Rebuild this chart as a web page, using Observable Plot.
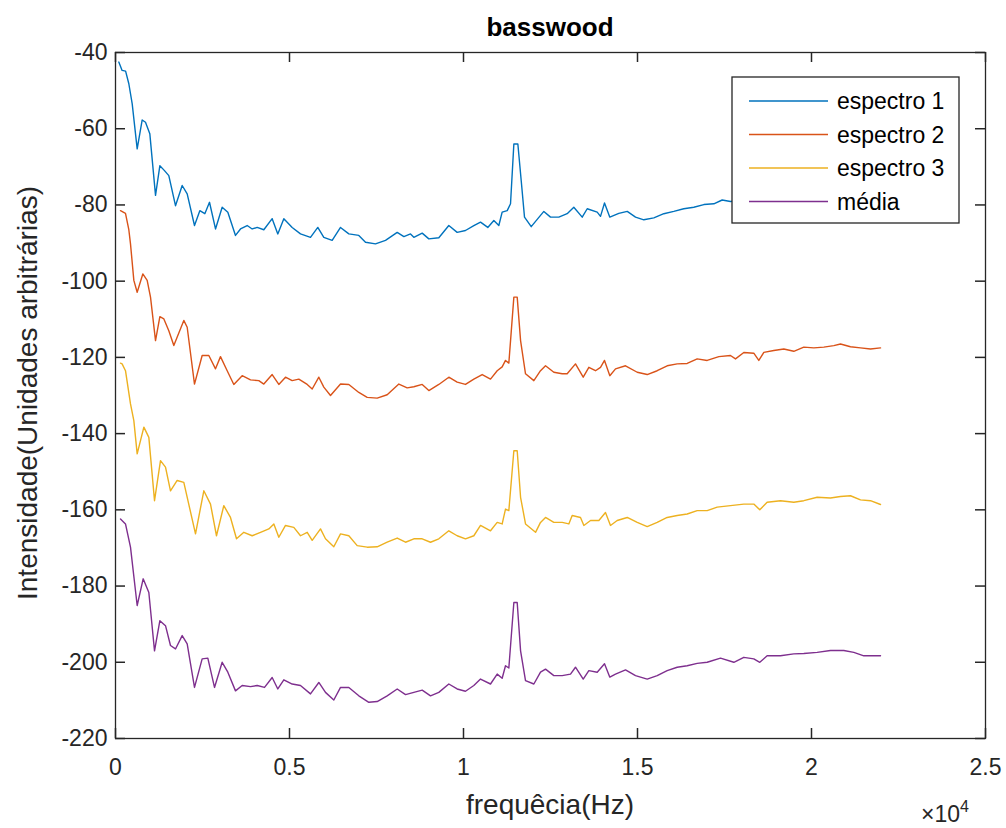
<!DOCTYPE html>
<html>
<head>
<meta charset="utf-8">
<script src="https://cdn.jsdelivr.net/npm/d3@7"></script>
<script src="https://cdn.jsdelivr.net/npm/@observablehq/plot@0.6"></script>
<style>
  body { margin: 0; background: #fff; }
  #chart { width: 1006px; height: 828px; }
</style>
</head>
<body>
<div id="chart"></div>
<script>
// ---------- data ----------
const titleText = "basswood";
const xLabel = "frequêcia(Hz)";
const yLabel = "Intensidade(Unidades arbitrárias)";
const seriesNames = ["espectro 1", "espectro 2", "espectro 3", "média"];
const seriesColors = ["#0072BD", "#D95319", "#EDB120", "#7E2F8E"];

const xTicks = [0, 5000, 10000, 15000, 20000, 25000];
const xTickLabels = ["0", "0.5", "1", "1.5", "2", "2.5"];
const yTicks = [-220, -200, -180, -160, -140, -120, -100, -80, -60, -40];

const freq1 = [95,190,290,383,480,623,767,862,986,1150,1275,1408,1532,1724,1916,2060,2270,2423,2567,2701,2874,3065,3228,3448,3592,3784,3927,4071,4262,4502,4664,4837,5077,5316,5603,5813,5986,6226,6466,6705,6992,7184,7471,7759,8095,8287,8477,8573,8813,9004,9291,9578,9818,10057,10297,10489,10698,10872,11015,11111,11256,11351,11447,11562,11658,11753,11946,12136,12309,12500,12739,12979,13170,13411,13555,13842,13937,14052,14205,14463,14705,14943,15182,15469,15756,16043,16330,16618,16906,17193,17433,17672,18055,18342,18486,18630,18917,19204,19491,19779,20066,20354,20641,20833,21120,21408,21695,21983];
const esp1 = [-42.5,-44.7,-44.9,-48.2,-53.5,-65.3,-57.7,-58.3,-61.3,-77.5,-69.7,-71,-72.3,-80.2,-74.9,-77.1,-85.4,-81.5,-82.3,-79.3,-86.3,-80.6,-81.9,-88,-86.3,-85.4,-86.3,-85.9,-86.5,-83.6,-87.6,-83.6,-85.9,-87.6,-88.5,-85.9,-88.5,-89.3,-85.9,-87.6,-88,-89.8,-90.2,-89.3,-87.2,-88.3,-87.6,-88.5,-87.4,-88.9,-88.6,-85.4,-87.2,-86.7,-85.4,-84.5,-85.9,-84.1,-85.4,-81.9,-81.5,-79.7,-64,-64,-73.6,-83.2,-85.7,-83.6,-81.7,-83.2,-83.2,-82.3,-80.6,-83.2,-81,-81.9,-83,-79.5,-83.2,-82.2,-81.7,-83.2,-83.9,-83.4,-82.3,-81.7,-81,-80.6,-79.9,-79.7,-78.7,-79.1,-78.7,-78.9,-80.8,-78.7,-78.2,-77.8,-78.4,-77.3,-77.5,-77.3,-76.9,-76.5,-77.2,-77.5,-77.8,-77.5];

const freq2 = [144,287,383,431,527,623,785,910,1006,1150,1275,1390,1532,1676,1963,2060,2270,2490,2682,2874,3017,3209,3400,3640,3880,4118,4262,4502,4693,4885,5077,5268,5509,5652,5843,5986,6178,6466,6705,6992,7232,7520,7807,8142,8382,8573,8813,9004,9291,9578,9818,10057,10297,10537,10776,10968,11111,11207,11303,11447,11543,11640,11782,12022,12213,12357,12596,12836,12979,13218,13440,13602,13793,13937,14052,14205,14368,14656,14992,15279,15566,15853,16140,16428,16715,17002,17338,17672,17816,18055,18342,18486,18630,18917,19204,19491,19779,20066,20354,20641,20833,21120,21408,21695,21983];
const esp2 = [-81.5,-82.2,-86.5,-90.2,-99.8,-102.9,-98.1,-99.8,-104.2,-115.6,-109.3,-109.9,-113,-116.9,-110.3,-112.1,-127,-119.5,-119.5,-123,-119.8,-123.5,-127.1,-124.8,-125.9,-126.1,-127,-124.5,-127.1,-125.2,-126.1,-125.7,-127.1,-128.3,-125.2,-127.8,-130,-127,-127.1,-129.2,-130.5,-130.7,-129.8,-127,-128,-127.7,-127.1,-128.7,-127.1,-125.2,-126.5,-127.1,-125.7,-124.5,-125.7,-123.5,-122.5,-120.8,-121.5,-104.2,-104.2,-115.6,-124.3,-126.1,-123.5,-122.2,-123.9,-124.3,-124.3,-121.7,-125.2,-122.6,-123.5,-122.6,-120.8,-124.8,-123,-122.2,-123.9,-124.5,-123.5,-122.2,-121.7,-121.6,-120.4,-120.8,-119.8,-119.5,-120.4,-118.7,-118.9,-120.8,-118.7,-118.2,-117.8,-118.4,-117.3,-117.5,-117.3,-116.9,-116.5,-117.2,-117.5,-117.8,-117.5];

const freq3 = [144,190,287,431,527,623,815,958,1121,1293,1437,1580,1772,1963,2299,2538,2730,2902,3112,3304,3477,3688,3927,4167,4406,4550,4693,4885,5124,5316,5509,5652,5891,6034,6273,6466,6705,6945,7232,7520,7807,8095,8334,8573,8813,9052,9291,9578,9818,10057,10297,10489,10776,10968,11111,11207,11303,11447,11543,11640,11782,12070,12213,12357,12596,12836,13027,13123,13362,13459,13650,13890,14080,14224,14416,14705,14992,15279,15566,15853,16140,16428,16715,17002,17290,17672,18055,18342,18514,18725,19108,19491,19779,20162,20545,20833,21120,21408,21695,21983];
const esp3 = [-121.5,-121.7,-123.5,-132.2,-136.6,-145.3,-138.3,-141,-157.6,-147.1,-148.8,-155,-152.3,-152.8,-166.3,-155,-158.5,-166.8,-158.9,-162,-167.6,-165.9,-166.8,-165.9,-165,-163.7,-167.2,-164.1,-164.6,-166.8,-165.9,-168,-165,-167.6,-169.7,-166.3,-166.8,-169.4,-169.8,-169.7,-168.5,-167.4,-168.5,-167.6,-167.6,-168.5,-167.6,-165.5,-166.8,-167.6,-166.8,-164.1,-165.5,-163.3,-163.7,-159.8,-160.2,-144.5,-144.5,-156.7,-163.7,-165.9,-163.3,-162,-163.3,-163.3,-163.7,-161.5,-162,-164.1,-162.8,-162.8,-160.7,-164.1,-162.8,-162,-163.3,-164.4,-163.3,-162,-161.5,-161.1,-160.2,-160.2,-159.3,-158.9,-158.5,-158.5,-160,-158,-157.6,-158,-157.6,-156.7,-156.9,-156.5,-156.3,-157.4,-157.6,-158.6];

const freq4 = [144,287,431,623,795,958,1121,1275,1437,1580,1724,1916,2060,2270,2490,2653,2845,3065,3228,3448,3640,3880,4071,4282,4502,4664,4837,5077,5316,5603,5843,6034,6273,6466,6705,6992,7280,7520,7807,8095,8334,8573,8813,9052,9291,9578,9818,10057,10297,10489,10776,10968,11111,11207,11303,11447,11543,11640,11782,12022,12213,12357,12596,12836,13075,13218,13440,13602,13842,14052,14205,14368,14656,14943,15279,15566,15853,16140,16428,16715,17002,17385,17768,18055,18342,18514,18725,19108,19491,19779,20162,20545,20928,21216,21503,21791,21983];
const media = [-162.4,-163.7,-169.8,-185.1,-178.1,-181.7,-197,-189.1,-190.4,-195.6,-196.5,-193,-195.2,-206.6,-199.1,-198.9,-206.6,-200,-202.6,-207.5,-206.1,-206.4,-206.1,-206.6,-204,-207,-204.6,-205.7,-206.1,-208.3,-205.3,-207.9,-209.9,-206.6,-206.6,-208.8,-210.5,-210.3,-208.8,-207,-208.5,-207.9,-207.3,-208.8,-207.9,-205.7,-207,-207.6,-206.1,-204.4,-205.7,-203.1,-204.2,-200.9,-201.5,-184.3,-184.3,-197,-204.8,-205.7,-202.6,-201.8,-203.5,-203.5,-203.1,-201.3,-204.4,-202.2,-202.6,-200.4,-203.9,-203.1,-202,-203.5,-204.4,-203.5,-202.2,-201.3,-200.9,-200.3,-200,-198.9,-200,-198.7,-199.1,-200,-198.3,-198.3,-197.8,-197.7,-197.4,-196.9,-196.9,-197.4,-198.3,-198.3,-198.3];

// ---------- build table ----------
const seriesData = [[freq1, esp1], [freq2, esp2], [freq3, esp3], [freq4, media]];
const rows = [];
seriesData.forEach(([fs, vs], i) => fs.forEach((f, j) => rows.push({f, v: vs[j], s: seriesNames[i]})));

const font = '"Liberation Sans", Arial, Helvetica, sans-serif';
const axisColor = "#262626";

const W = 1006, H = 828, mL = 115, mR = 21, mT = 52, mB = 90;
const tickLen = 10;
const innerW = W - mL - mR, innerH = H - mT - mB;

const plot = Plot.plot({
  width: W,
  height: H,
  marginLeft: mL,
  marginRight: mR,
  marginTop: mT,
  marginBottom: mB,
  style: {fontFamily: font, fontSize: "23px", color: axisColor, background: "#fff", overflow: "visible"},
  x: {domain: [0, 25000]},
  y: {domain: [-220, -40]},
  color: {domain: seriesNames, range: seriesColors},
  marks: [
    Plot.line(rows, {x: "f", y: "v", z: "s", stroke: "s", strokeWidth: 1.4}),
    Plot.axisX({anchor: "bottom", ticks: xTicks, tickSize: 0, tickPadding: 20,
      tickFormat: d => xTickLabels[xTicks.indexOf(d)], label: null}),
    Plot.axisY({anchor: "left", ticks: yTicks, tickSize: 0, tickPadding: 8,
      tickFormat: d => String(d), label: null}),
    Plot.frame({stroke: axisColor, strokeWidth: 1.3}),
    // inward tick marks on all four sides (MATLAB box style)
    Plot.tickX(xTicks, {x: d => d, insetTop: innerH - tickLen, stroke: axisColor, strokeWidth: 1.5}),
    Plot.tickX(xTicks, {x: d => d, insetBottom: innerH - tickLen, stroke: axisColor, strokeWidth: 1.5}),
    Plot.tickY(yTicks, {y: d => d, insetRight: innerW - tickLen, stroke: axisColor, strokeWidth: 1.5}),
    Plot.tickY(yTicks, {y: d => d, insetLeft: innerW - tickLen, stroke: axisColor, strokeWidth: 1.5})
  ]
});
document.getElementById("chart").appendChild(plot);

// ---------- annotations (title, axis labels, exponent, legend) ----------
const svg = d3.select(plot);
const g = svg.append("g").attr("font-family", font);

g.append("text").attr("x", 550).attr("y", 36).attr("text-anchor", "middle")
  .attr("font-size", 26).attr("font-weight", "bold").attr("fill", "#000").text(titleText);

g.append("text").attr("x", 550).attr("y", 814).attr("text-anchor", "middle")
  .attr("font-size", 28).attr("fill", axisColor).text(xLabel);

g.append("text").attr("transform", "translate(37,393) rotate(-90)").attr("text-anchor", "middle")
  .attr("font-size", 28).attr("fill", axisColor).text(yLabel);

const ex = g.append("text").attr("x", 921).attr("y", 822).attr("text-anchor", "start")
  .attr("font-size", 23).attr("fill", axisColor);
ex.append("tspan").text("×10");
ex.append("tspan").attr("font-size", 16).attr("dy", -10).text("4");

// legend
const lg = g.append("g");
lg.append("rect").attr("x", 732).attr("y", 77).attr("width", 227).attr("height", 146)
  .attr("fill", "#fff").attr("stroke", axisColor).attr("stroke-width", 1.3);
seriesNames.forEach((name, i) => {
  const yy = 101 + i * 33.5;
  lg.append("line").attr("x1", 749).attr("x2", 828).attr("y1", yy).attr("y2", yy)
    .attr("stroke", seriesColors[i]).attr("stroke-width", 1.4);
  lg.append("text").attr("x", 837).attr("y", yy).attr("dy", "0.35em").attr("text-anchor", "start")
    .attr("font-size", 23).attr("fill", "#000").text(name);
});
</script>
</body>
</html>
